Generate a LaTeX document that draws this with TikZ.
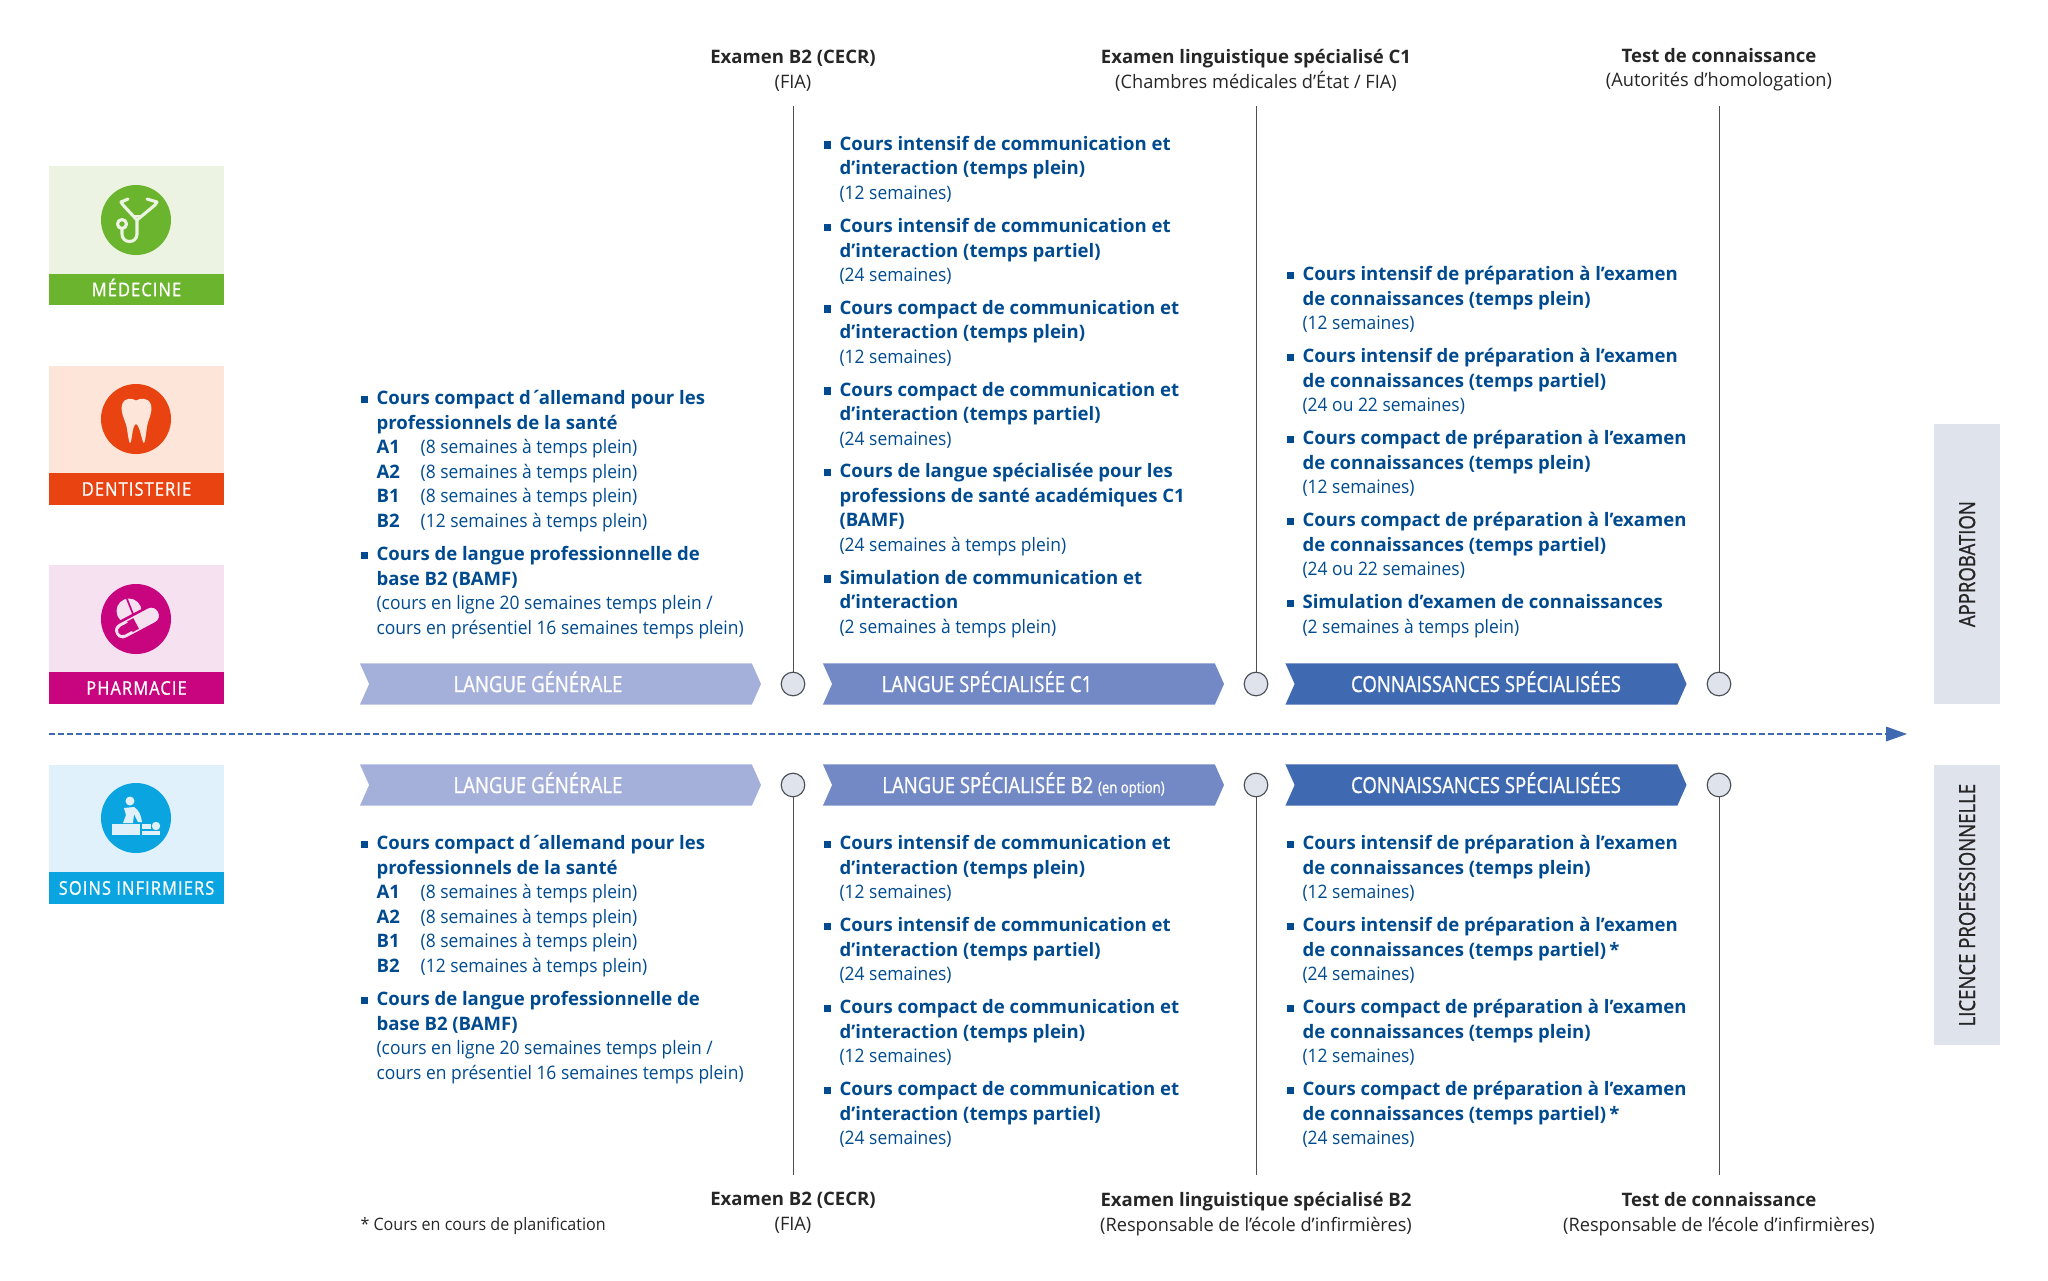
\documentclass[tikz,border=0pt]{standalone}
\usepackage{fontspec}
\usepackage{xcolor}
\setmainfont{Open Sans}[FakeStretch=0.94,BoldFeatures={FakeStretch=1.0}]
\newfontfamily\headfont{Open Sans}[FakeStretch=0.98,BoldFeatures={FakeStretch=1.0}]
\newfontfamily\chevfont{Open Sans}[FakeStretch=0.835,FakeBold=1]
\newfontfamily\bandfont{Open Sans}[FakeStretch=0.87,LetterSpace=6,FakeBold=1]
\usetikzlibrary{arrows.meta,positioning,shapes.symbols}
\definecolor{pnavy}{HTML}{004A8F}
\definecolor{pline}{HTML}{4A4F55}
\definecolor{pblob}{HTML}{DFE4EC}
\definecolor{pchevA}{HTML}{A5B0DA}
\definecolor{pchevB}{HTML}{7289C5}
\definecolor{pchevC}{HTML}{3F69B0}
\definecolor{pgreen}{HTML}{6BB52E}
\definecolor{pgreenl}{HTML}{ECF3E3}
\definecolor{pred}{HTML}{E84311}
\definecolor{predl}{HTML}{FDE5DA}
\definecolor{ppink}{HTML}{C8057F}
\definecolor{ppinkl}{HTML}{F5E1EF}
\definecolor{pcyan}{HTML}{0AA5E0}
\definecolor{pcyanl}{HTML}{E1F1FB}
% square marker hung in the margin of a course block
\newcommand{\bul}{\strut\llap{\textcolor{pnavy}{\rule[0.55pt]{2.7pt}{2.7pt}}\hspace{2.9pt}}}
\newcommand{\lvl}[1]{\makebox[15.7pt][l]{\textbf{#1}}}
\tikzset{
  crs/.style    = {anchor=north west, inner sep=0pt, align=left, text=pnavy,
                   font=\fontsize{6.6pt}{8.71pt}\selectfont},
  head/.style   = {align=center, text=black!85, font=\headfont\fontsize{6.6pt}{8.71pt}\selectfont},
  chev/.style   = {signal, signal to=east, signal from=west, signal pointer angle=132,
                   fill=#1, minimum height=14.6pt, minimum width=142.6pt, inner sep=0pt,
                   text=white, text height=5.7pt, text depth=0pt,
                   font=\chevfont\fontsize{7.9pt}{9pt}\selectfont},
  blob/.style   = {circle, draw=pline, line width=0.4pt, fill=pblob,
                   minimum size=8.4pt, inner sep=0pt},
  rule/.style   = {draw=pline, line width=0.36pt},
  catbox/.style = {rectangle, anchor=north west, fill=#1, minimum width=62.2pt,
                   minimum height=48.2pt, inner sep=0pt},
  catband/.style= {rectangle, anchor=north west, fill=#1, minimum width=62.2pt,
                   minimum height=11.2pt, inner sep=0pt, text=white,
                   text height=4.9pt, text depth=0pt,
                   font=\bandfont\fontsize{6.7pt}{8pt}\selectfont},
  caticon/.style= {circle, fill=#1, minimum size=24.9pt, inner sep=0pt},
  side/.style   = {rectangle, anchor=north west, fill=pblob, minimum width=23.5pt,
                   inner sep=0pt},
  sidetxt/.style= {rotate=90, text=black!85, font=\chevfont\fontsize{7.9pt}{9pt}\selectfont},
}
\begin{document}
\begin{tikzpicture}[x=0.0125cm,y=-0.0125cm]
\useasboundingbox (0,0) rectangle (2048,1280);

% category tiles on the left
\node[catbox=pgreenl] (medBox) at (48.5,165.5) {};
\node[catband=pgreen] (medBand) at (48.5,273) {MÉDECINE};
\node[caticon=pgreen] (medIcon) at (136,220) {};
\node[catbox=predl] (denBox) at (48.5,365.5) {};
\node[catband=pred] (denBand) at (48.5,472.5) {DENTISTERIE};
\node[caticon=pred] (denIcon) at (136,419) {};
\node[catbox=ppinkl] (phaBox) at (48.5,564.5) {};
\node[catband=ppink] (phaBand) at (48.5,671.5) {PHARMACIE};
\node[caticon=ppink] (phaIcon) at (136,619) {};
\node[catbox=pcyanl] (soiBox) at (48.5,764.5) {};
\node[catband=pcyan] (soiBand) at (48.5,871.5) {SOINS INFIRMIERS};
\node[caticon=pcyan] (soiIcon) at (136,818) {};

% stethoscope
\begin{scope}[shift={(136,220)}, draw=pgreenl, line width=1.1pt, line cap=round, line join=round]
  \draw (-8,-21) -- (-15,-18) -- (-13,-15) -- (1,0) -- (19,-15) -- (21,-18) -- (11,-21);
  \draw (1,0) -- (1,14) .. controls (1,24) and (-14,24) .. (-14,14) -- (-14,9);
  \draw (-14,4) circle (4.5);
  \draw[line width=0.6pt] (-3,-4) -- (5,-4);
\end{scope}
% tooth
\begin{scope}[shift={(136,419)}]
  \fill[predl] (0,-18.5) .. controls (-4,-21) and (-12,-22) .. (-14,-14)
    .. controls (-16,-6) and (-10,2) .. (-9,10)
    .. controls (-8,16) and (-7,24) .. (-6,24)
    .. controls (-4,24) and (-4,6) .. (0,5)
    .. controls (4,6) and (6,24) .. (8,24)
    .. controls (9,24) and (10,14) .. (11,8)
    .. controls (12,0) and (17,-6) .. (15,-14)
    .. controls (13,-22) and (4,-21) .. (0,-18.5) -- cycle;
\end{scope}
% capsule and tablet
\begin{scope}[shift={(136,619)}]
  \fill[ppinkl] (-7,-8) circle (12.5);
  \draw[ppink, line width=0.6pt] (-9,-20) -- (-3,-5);
  \begin{scope}[shift={(1,4)}, rotate=28]
    \draw[ppink, line width=0.9pt, fill=ppinkl, rounded corners=3pt] (-25,-9) rectangle (25,9);
    \draw[ppinkl, line width=0.6pt, fill=ppink, rounded corners=2pt] (-22,-5.5) rectangle (-2,5.5);
    \fill[ppink] (-8,-6) rectangle (-1,6);
  \end{scope}
\end{scope}
% carer and patient
\begin{scope}[shift={(136,818)}]
  \fill[pcyanl] (-6,-17) circle (4.5);
  \fill[pcyanl] (-12,-10) -- (-2,-11) .. controls (3,-8) and (5,-3) .. (6,4) -- (2,4)
    -- (-2,-4) -- (-3,5) -- (-13,5) -- (-10,-3) -- cycle;
  \fill[pcyanl] (-24,6) rectangle (4,17);
  \fill[pcyanl] (6,6) rectangle (15,11);
  \fill[pcyanl] (20,8) circle (4.2);
  \fill[pcyanl] (6,13) rectangle (24,17);
\end{scope}

% top row
\node[head, anchor=south, inner ysep=5pt] (hdTopA) at (793,106)
  {\textbf{Examen B2 (CECR)}\\(FIA)};
\node[head, anchor=south, inner ysep=5pt] (hdTopB) at (1256,106)
  {\textbf{Examen linguistique spécialisé C1}\\(Chambres médicales d’État / FIA)};
\node[head, anchor=south, inner ysep=5pt] (hdTopC) at (1719,106)
  {\textbf{Test de connaissance}\\(Autorités d’homologation)};

\node[chev=pchevA] (chTopA) at (560.5,684) {LANGUE GÉNÉRALE\kern16pt};
\node[chev=pchevB] (chTopB) at (1023.5,684) {LANGUE SPÉCIALISÉE C1\kern26pt};
\node[chev=pchevC] (chTopC) at (1486,684) {CONNAISSANCES SPÉCIALISÉES};
\node[blob] (blTopA) at (793,684) {};
\node[blob] (blTopB) at (1256,684) {};
\node[blob] (blTopC) at (1719,684) {};
\draw[rule] (hdTopA.south) -- (blTopA.north);
\draw[rule] (hdTopB.south) -- (blTopB.north);
\draw[rule] (hdTopC.south) -- (blTopC.north);

% courses above the axis
\node[crs] (tA1) at (376,387) {\bul\textbf{Cours compact d´\kern-1.2pt allemand pour les}\\\textbf{professionnels de la santé}\\
  \lvl{A1}(8 semaines à temps plein)\\\lvl{A2}(8 semaines à temps plein)\\
  \lvl{B1}(8 semaines à temps plein)\\\lvl{B2}(12 semaines à temps plein)};
\node[crs] (tA2) at (376,543) {\bul\textbf{Cours de langue professionnelle de}\\\textbf{base B2 (BAMF)}\\
  (cours en ligne 20 semaines temps plein /\\cours en présentiel 16 semaines temps plein)};

\node[crs] (tB1) at (839,132.5) {\bul\textbf{Cours intensif de communication et}\\\textbf{d’interaction (temps plein)}\\(12 semaines)};
\node[crs] (tB2) at (839,215) {\bul\textbf{Cours intensif de communication et}\\\textbf{d’interaction (temps partiel)}\\(24 semaines)};
\node[crs] (tB3) at (839,296.5) {\bul\textbf{Cours compact de communication et}\\\textbf{d’interaction (temps plein)}\\(12 semaines)};
\node[crs] (tB4) at (839,378.5) {\bul\textbf{Cours compact de communication et}\\\textbf{d’interaction (temps partiel)}\\(24 semaines)};
\node[crs] (tB5) at (839,460) {\bul\textbf{Cours de langue spécialisée pour les}\\\textbf{professions de santé académiques C1}\\\textbf{(BAMF)}\\(24 semaines à temps plein)};
\node[crs] (tB6) at (839,566.5) {\bul\textbf{Simulation de communication et}\\\textbf{d’interaction}\\(2 semaines à temps plein)};

\node[crs] (tC1) at (1302,263) {\bul\textbf{Cours intensif de préparation à l’examen}\\\textbf{de connaissances (temps plein)}\\(12 semaines)};
\node[crs] (tC2) at (1302,345) {\bul\textbf{Cours intensif de préparation à l’examen}\\\textbf{de connaissances (temps partiel)}\\(24 ou 22 semaines)};
\node[crs] (tC3) at (1302,427) {\bul\textbf{Cours compact de préparation à l’examen}\\\textbf{de connaissances (temps plein)}\\(12 semaines)};
\node[crs] (tC4) at (1302,509) {\bul\textbf{Cours compact de préparation à l’examen}\\\textbf{de connaissances (temps partiel)}\\(24 ou 22 semaines)};
\node[crs] (tC5) at (1302,591) {\bul\textbf{Simulation d’examen de connaissances}\\(2 semaines à temps plein)};

% axis between the two rows
\coordinate (axL) at (49,734);
\coordinate (axR) at (1907,734);
\draw[pchevC, line width=0.5pt, dash pattern=on 2pt off 1.2pt] (axL) -- ([xshift=-7pt]axR);
\fill[pchevC] (axR) -- ++(-21,-7.5) -- ++(0,15) -- cycle;

% grey side tabs
\node[side, minimum height=99.6pt] (tabTop) at (1933.5,423.5) {};
\node[sidetxt] (tabTopTxt) at (tabTop.center) {APPROBATION};
\node[side, minimum height=99.6pt] (tabBot) at (1933.5,764.5) {};
\node[sidetxt] (tabBotTxt) at (tabBot.center) {LICENCE PROFESSIONNELLE};

% bottom row
\node[chev=pchevA] (chBotA) at (560.5,785) {LANGUE GÉNÉRALE\kern16pt};
\node[chev=pchevB] (chBotB) at (1023.5,785) {LANGUE SPÉCIALISÉE B2 {\fontsize{5.6pt}{6pt}\selectfont (en option)}};
\node[chev=pchevC] (chBotC) at (1486,785) {CONNAISSANCES SPÉCIALISÉES};
\node[blob] (blBotA) at (793,785) {};
\node[blob] (blBotB) at (1256,785) {};
\node[blob] (blBotC) at (1719,785) {};

\node[head, anchor=north, inner ysep=6pt] (hdBotA) at (793,1175)
  {\textbf{Examen B2 (CECR)}\\(FIA)};
\node[head, anchor=north, inner ysep=6pt] (hdBotB) at (1256,1175)
  {\textbf{Examen linguistique spécialisé B2}\\(Responsable de l’école d’infirmières)};
\node[head, anchor=north, inner ysep=6pt] (hdBotC) at (1719,1175)
  {\textbf{Test de connaissance}\\(Responsable de l’école d’infirmières)};
\draw[rule] (blBotA.south) -- (hdBotA.north);
\draw[rule] (blBotB.south) -- (hdBotB.north);
\draw[rule] (blBotC.south) -- (hdBotC.north);

% courses below the axis
\node[crs] (bA1) at (376,832) {\bul\textbf{Cours compact d´\kern-1.2pt allemand pour les}\\\textbf{professionnels de la santé}\\
  \lvl{A1}(8 semaines à temps plein)\\\lvl{A2}(8 semaines à temps plein)\\
  \lvl{B1}(8 semaines à temps plein)\\\lvl{B2}(12 semaines à temps plein)};
\node[crs] (bA2) at (376,988) {\bul\textbf{Cours de langue professionnelle de}\\\textbf{base B2 (BAMF)}\\
  (cours en ligne 20 semaines temps plein /\\cours en présentiel 16 semaines temps plein)};

\node[crs] (bB1) at (839,832) {\bul\textbf{Cours intensif de communication et}\\\textbf{d’interaction (temps plein)}\\(12 semaines)};
\node[crs] (bB2) at (839,914) {\bul\textbf{Cours intensif de communication et}\\\textbf{d’interaction (temps partiel)}\\(24 semaines)};
\node[crs] (bB3) at (839,996) {\bul\textbf{Cours compact de communication et}\\\textbf{d’interaction (temps plein)}\\(12 semaines)};
\node[crs] (bB4) at (839,1078) {\bul\textbf{Cours compact de communication et}\\\textbf{d’interaction (temps partiel)}\\(24 semaines)};

\node[crs] (bC1) at (1302,832) {\bul\textbf{Cours intensif de préparation à l’examen}\\\textbf{de connaissances (temps plein)}\\(12 semaines)};
\node[crs] (bC2) at (1302,914) {\bul\textbf{Cours intensif de préparation à l’examen}\\\textbf{de connaissances (temps partiel)\,*}\\(24 semaines)};
\node[crs] (bC3) at (1302,996) {\bul\textbf{Cours compact de préparation à l’examen}\\\textbf{de connaissances (temps plein)}\\(12 semaines)};
\node[crs] (bC4) at (1302,1078) {\bul\textbf{Cours compact de préparation à l’examen}\\\textbf{de connaissances (temps partiel)\,*}\\(24 semaines)};

\node[anchor=west, inner sep=0pt, text=black!85, font=\fontsize{6.08pt}{8pt}\selectfont] (fnote) at (360,1226)
  {* Cours en cours de planification};
\end{tikzpicture}
\end{document}
